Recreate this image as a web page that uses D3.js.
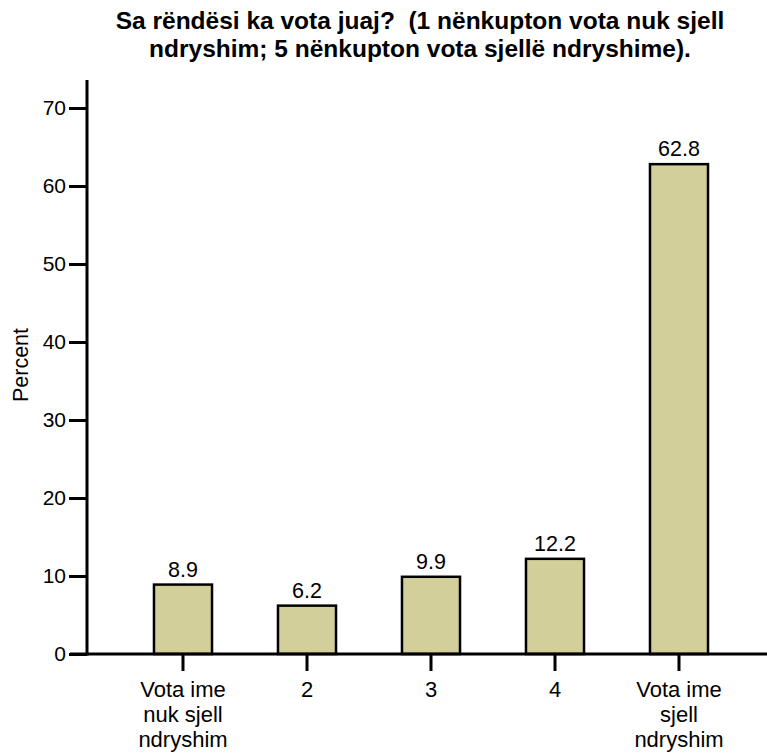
<!DOCTYPE html>
<html>
<head>
<meta charset="utf-8">
<script src="https://cdn.jsdelivr.net/npm/d3@7"></script>
<style>
  html, body { margin: 0; padding: 0; background: #fff; }
  svg { display: block; font-family: "Liberation Sans", Arial, sans-serif; }
</style>
</head>
<body>
<svg id="chart" width="767" height="756"></svg>
<script>
const titleLines = ["Sa rëndësi ka vota juaj?  (1 nënkupton vota nuk sjell", "ndryshim; 5 nënkupton vota sjellë ndryshime)."];
const categories = ["c1", "c2", "c3", "c4", "c5"];
const categoryLabels = [["Vota ime", "nuk sjell", "ndryshim"], ["2"], ["3"], ["4"], ["Vota ime", "sjell", "ndryshim"]];
const values = [8.9, 6.2, 9.9, 12.2, 62.8];
const valueLabels = ["8.9", "6.2", "9.9", "12.2", "62.8"];
const yTicks = [0, 10, 20, 30, 40, 50, 60, 70];
const yLabel = "Percent";

const svg = d3.select("#chart");
const fill = "#d3cf9a";

const y = d3.scaleLinear().domain([0, 70]).range([654, 108]);
const x = d3.scaleBand().domain(categories).range([121, 741]).paddingInner(0.532).paddingOuter(0.266);

// title
const title = svg.append("text").attr("text-anchor", "middle").attr("font-weight", "bold")
  .attr("font-size", 24.5).style("white-space", "pre");
titleLines.forEach((t, i) => title.append("tspan").attr("x", 420).attr("y", 29 + i * 28).text(t));

// bars
svg.append("g").selectAll("rect").data(values).join("rect")
  .attr("x", (d, i) => x(categories[i]))
  .attr("y", d => y(d))
  .attr("width", x.bandwidth())
  .attr("height", d => y(0) - y(d))
  .attr("fill", fill).attr("stroke", "#000").attr("stroke-width", 2.5);

// value labels
svg.append("g").selectAll("text").data(values).join("text")
  .attr("x", (d, i) => x(categories[i]) + x.bandwidth() / 2)
  .attr("y", d => y(d) - 8)
  .attr("text-anchor", "middle").attr("font-size", 21.5)
  .text((d, i) => valueLabels[i]);

// y axis
const yAxis = svg.append("g").attr("transform", "translate(87,0)")
  .call(d3.axisLeft(y).tickValues(yTicks).tickSize(18).tickSizeOuter(0).tickPadding(3));
yAxis.select(".domain").remove();
yAxis.selectAll(".tick line").attr("stroke", "#000").attr("stroke-width", 3);
yAxis.selectAll(".tick text").attr("font-size", 21).attr("font-family", "Liberation Sans, Arial, sans-serif").attr("fill", "#000");
svg.append("line").attr("x1", 87).attr("x2", 87).attr("y1", 80).attr("y2", y(0) + 1.5)
  .attr("stroke", "#000").attr("stroke-width", 3);

// x axis
svg.append("line").attr("x1", 70).attr("x2", 767).attr("y1", y(0)).attr("y2", y(0))
  .attr("stroke", "#000").attr("stroke-width", 3);
const xAxis = svg.append("g").attr("transform", `translate(0,${y(0)})`)
  .call(d3.axisBottom(x).tickSize(17).tickSizeOuter(0).tickFormat(() => ""));
xAxis.select(".domain").remove();
xAxis.selectAll(".tick line").attr("stroke", "#000").attr("stroke-width", 3);

// x labels (multi-line)
categories.forEach((c, i) => {
  const t = svg.append("text").attr("text-anchor", "middle").attr("font-size", 22);
  categoryLabels[i].forEach((line, j) => {
    t.append("tspan").attr("x", x(c) + x.bandwidth() / 2).attr("y", 697 + j * 25).text(line);
  });
});

// y label
svg.append("text").attr("transform", "translate(28,365) rotate(-90)")
  .attr("text-anchor", "middle").attr("font-size", 21.5).text(yLabel);
</script>
</body>
</html>
